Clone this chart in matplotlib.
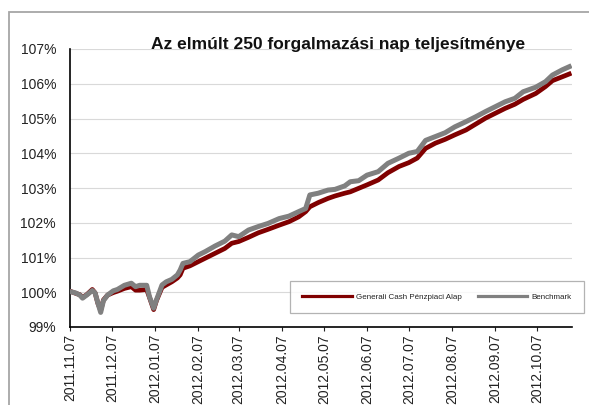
import matplotlib
matplotlib.use("Agg")
import matplotlib.pyplot as plt
from matplotlib.patches import Rectangle
import numpy as np
import pandas as pd

plt.rcParams['font.family'] = ['Liberation Sans', 'DejaVu Sans']

title = "Az elmúlt 250 forgalmazási nap teljesítménye"
series_names = ["Generali Cash Pénzpiaci Alap", "Benchmark"]

dates = [
    "2011-11-07", "2011-11-11", "2011-11-14", "2011-11-16", "2011-11-19", "2011-11-23",
    "2011-11-25", "2011-11-27", "2011-11-29", "2011-12-01", "2011-12-04", "2011-12-08",
    "2011-12-11", "2011-12-16", "2011-12-21", "2011-12-24", "2011-12-27", "2012-01-01",
    "2012-01-03", "2012-01-06", "2012-01-08", "2012-01-12", "2012-01-15", "2012-01-19",
    "2012-01-23", "2012-01-25", "2012-01-27", "2012-02-01", "2012-02-07", "2012-02-12",
    "2012-02-19", "2012-02-26", "2012-03-02", "2012-03-07", "2012-03-14", "2012-03-21",
    "2012-03-28", "2012-04-05", "2012-04-12", "2012-04-19", "2012-04-24", "2012-04-27",
    "2012-05-03", "2012-05-10", "2012-05-15", "2012-05-22", "2012-05-26", "2012-06-01",
    "2012-06-07", "2012-06-15", "2012-06-22", "2012-06-30", "2012-07-07", "2012-07-13",
    "2012-07-19", "2012-07-26", "2012-08-02", "2012-08-09", "2012-08-17", "2012-08-24",
    "2012-08-31", "2012-09-07", "2012-09-14", "2012-09-21", "2012-09-27", "2012-10-06",
    "2012-10-13", "2012-10-18", "2012-10-25", "2012-10-30",
]

fund = [
    100.03, 99.97, 99.93, 99.85, 99.93, 100.08,
    99.98, 99.68, 99.48, 99.78, 99.92, 99.99,
    100.03, 100.11, 100.16, 100.06, 100.06, 100.08,
    99.85, 99.50, 99.76, 100.14, 100.21, 100.30,
    100.41, 100.50, 100.69, 100.76, 100.88, 100.98,
    101.12, 101.26, 101.41, 101.46, 101.58, 101.71,
    101.81, 101.93, 102.03, 102.17, 102.32, 102.46,
    102.58, 102.70, 102.77, 102.85, 102.89, 102.99,
    103.09, 103.23, 103.44, 103.62, 103.73, 103.86,
    104.14, 104.29, 104.40, 104.53, 104.67, 104.84,
    105.01, 105.15, 105.29, 105.41, 105.55, 105.72,
    105.92, 106.09, 106.20, 106.28,
]

benchmark = [
    100.02, 99.98, 99.92, 99.83, 99.92, 100.05,
    99.98, 99.69, 99.42, 99.76, 99.92, 100.04,
    100.08, 100.20, 100.26, 100.16, 100.20, 100.20,
    99.87, 99.54, 99.78, 100.21, 100.30, 100.37,
    100.50, 100.64, 100.83, 100.88, 101.07, 101.17,
    101.33, 101.47, 101.65, 101.60, 101.79, 101.89,
    101.98, 102.12, 102.19, 102.32, 102.41, 102.80,
    102.85, 102.94, 102.96, 103.06, 103.18, 103.21,
    103.37, 103.47, 103.71, 103.86, 104.00, 104.05,
    104.37, 104.48, 104.59, 104.76, 104.91, 105.05,
    105.20, 105.34, 105.48, 105.58, 105.77, 105.90,
    106.06, 106.25, 106.40, 106.49,
]

tick_dates = [
    "2011-11-07", "2011-12-07", "2012-01-07", "2012-02-07", "2012-03-07", "2012-04-07",
    "2012-05-07", "2012-06-07", "2012-07-07", "2012-08-07", "2012-09-07", "2012-10-07",
]
tick_labels = [
    "2011.11.07", "2011.12.07", "2012.01.07", "2012.02.07", "2012.03.07", "2012.04.07",
    "2012.05.07", "2012.06.07", "2012.07.07", "2012.08.07", "2012.09.07", "2012.10.07",
]
y_ticks = [99, 100, 101, 102, 103, 104, 105, 106, 107]

W, H = 589, 405
fig = plt.figure(figsize=(W / 100, H / 100), dpi=100)
fig.patch.set_facecolor("white")

# outer frame
fig.patches.append(Rectangle((9 / W, -0.2), 1.2, 1.2 - 12 / H,
                             transform=fig.transFigure, fill=False,
                             edgecolor="#a6a6a6", linewidth=1.3, zorder=0))

ax = fig.add_axes([70 / W, 1 - 327 / H, (572 - 70) / W, (327 - 49) / H])

d = pd.to_datetime(dates)
ax.plot(d, fund, color="#800000", linewidth=3.4, solid_joinstyle="round",
        label=series_names[0], zorder=3)
ax.plot(d, benchmark, color="#808080", linewidth=3.6, solid_joinstyle="round",
        label=series_names[1], zorder=4)

ax.set_xlim(pd.Timestamp("2011-11-07"), pd.Timestamp("2012-11-01"))
ax.set_ylim(99, 107)
ax.set_yticks(y_ticks)
ax.set_yticklabels([f"{v}%" for v in y_ticks], fontsize=10)
ax.set_xticks(pd.to_datetime(tick_dates))
ax.set_xticklabels(tick_labels, rotation=90, fontsize=10)

ax.grid(axis="y", color="#d9d9d9", linewidth=0.8)
ax.set_axisbelow(True)
for s in ["top", "right"]:
    ax.spines[s].set_visible(False)
for s in ["left", "bottom"]:
    ax.spines[s].set_color("black")
    ax.spines[s].set_linewidth(1.2)
ax.tick_params(axis="y", length=0, pad=10, colors="#222222")
ax.tick_params(axis="x", length=3, pad=2, colors="#222222", width=0.8)

fig.text(338.5 / W, 1 - 49 / H, title, ha="center", va="baseline",
         fontsize=12.5, fontweight="bold", color="#111111")

leg = fig.legend(loc="center", bbox_to_anchor=(437 / W, 1 - 297 / H),
                 ncol=2, fontsize=5.8, handlelength=6.1, handletextpad=0.6,
                 columnspacing=1.9, borderpad=1.5, frameon=True, fancybox=False)
leg.get_frame().set_edgecolor("#a0a0a0")
leg.get_frame().set_linewidth(0.9)
for ln in leg.get_lines():
    ln.set_linewidth(2.3)
for t in leg.get_texts():
    t.set_color("#222222")

fig.savefig("out.png", dpi=100, facecolor="white")
